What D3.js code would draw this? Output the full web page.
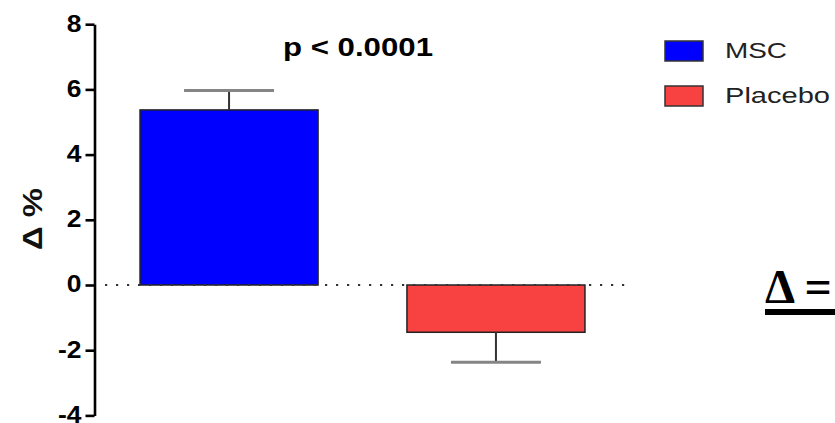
<!DOCTYPE html>
<html>
<head>
<meta charset="utf-8">
<script src="https://cdn.jsdelivr.net/npm/d3@7/dist/d3.min.js"></script>
<style>
  html, body { margin: 0; padding: 0; background: #fff; }
  svg { display: block; }
</style>
</head>
<body>
<svg id="chart" width="835" height="423"></svg>
<script>
// Change from baseline (Δ %) by group, mean ± SEM
const groups = ["MSC", "Placebo"];
const means = [5.37, -1.45];
const sems = [0.6, 0.92];
const colors = ["#0000ff", "#f84242"];
const yTicks = [-4, -2, 0, 2, 4, 6, 8];
const pLabel = "p < 0.0001";
const yLabel = "Δ %";
const noteLabel = "Δ =";

const svg = d3.select("#chart");

const x = d3.scaleBand()
  .domain(groups)
  .range([100, 625])
  .paddingInner(0.333)
  .paddingOuter(0.15);

const y = d3.scaleLinear()
  .domain([-4, 8])
  .range([415.4, 24.2]);

// Bars
svg.append("g").selectAll("rect")
  .data(groups)
  .join("rect")
  .attr("x", d => x(d))
  .attr("width", x.bandwidth())
  .attr("y", (d, i) => y(Math.max(0, means[i])))
  .attr("height", (d, i) => Math.abs(y(means[i]) - y(0)))
  .attr("fill", (d, i) => colors[i])
  .attr("stroke", "#222")
  .attr("stroke-width", 1.5);

// Error bars (one-sided, away from zero)
const eb = svg.append("g");
groups.forEach((g, i) => {
  const cx = x(g) + x.bandwidth() / 2;
  const end = means[i] + Math.sign(means[i]) * sems[i];
  eb.append("line")
    .attr("x1", cx).attr("x2", cx)
    .attr("y1", y(means[i])).attr("y2", y(end))
    .attr("stroke", "#333").attr("stroke-width", 2);
  eb.append("line")
    .attr("x1", cx - 45).attr("x2", cx + 45)
    .attr("y1", y(end)).attr("y2", y(end))
    .attr("stroke", "#858585").attr("stroke-width", 3);
});

// Dotted zero reference line
svg.append("line")
  .attr("x1", 105).attr("x2", 630)
  .attr("y1", y(0)).attr("y2", y(0))
  .attr("stroke", "#333")
  .attr("stroke-width", 2.2)
  .attr("stroke-dasharray", "2.2,8.8");

// Y axis
const axis = svg.append("g")
  .attr("transform", "translate(94.5,0)")
  .call(d3.axisLeft(y).tickValues(yTicks).tickFormat(d => String(d))
    .tickSize(9).tickSizeOuter(0).tickPadding(4));
axis.select(".domain").attr("stroke", "#000").attr("stroke-width", 2.6);
axis.selectAll(".tick line").attr("stroke", "#000").attr("stroke-width", 2.6);
axis.selectAll(".tick text")
  .attr("x", 0)
  .attr("transform", "translate(-13,0) scale(1.15,1)")
  .attr("fill", "#000")
  .style("font-family", "'Liberation Sans', Arial, sans-serif")
  .style("font-weight", "bold")
  .style("font-size", "23px")
  .attr("dy", "0.3em");

// Y axis title
svg.append("text")
  .attr("transform", "translate(42,219) rotate(-90)")
  .attr("text-anchor", "middle")
  .attr("textLength", 62)
  .attr("lengthAdjust", "spacingAndGlyphs")
  .style("font-family", "'Liberation Sans', Arial, sans-serif")
  .style("font-weight", "bold")
  .style("font-size", "27px")
  .attr("fill", "#111")
  .text(yLabel);

// Significance label
svg.append("text")
  .attr("x", 283).attr("y", 56)
  .attr("textLength", 150)
  .attr("lengthAdjust", "spacingAndGlyphs")
  .style("font-family", "'Liberation Sans', Arial, sans-serif")
  .style("font-weight", "bold")
  .style("font-size", "26px")
  .attr("fill", "#000")
  .text(pLabel);

// Legend
const legend = svg.append("g");
const legendY = [41, 86];
const legendW = [62, 105];
groups.forEach((g, i) => {
  legend.append("rect")
    .attr("x", 665).attr("y", legendY[i])
    .attr("width", 38).attr("height", 20)
    .attr("fill", colors[i])
    .attr("stroke", "#333").attr("stroke-width", 1.5);
  legend.append("text")
    .attr("x", 725).attr("y", legendY[i] + 17)
    .attr("textLength", legendW[i])
    .attr("lengthAdjust", "spacingAndGlyphs")
    .style("font-family", "'Liberation Sans', Arial, sans-serif")
    .style("font-size", "22px")
    .attr("fill", "#222")
    .text(g);
});

// Definition note (runs off the right edge)
svg.append("text")
  .attr("x", 765).attr("y", 303)
  .style("font-family", "'Liberation Serif', 'Times New Roman', serif")
  .style("font-weight", "bold")
  .style("font-size", "48px")
  .attr("fill", "#000")
  .text(noteLabel);
svg.append("rect")
  .attr("x", 765).attr("y", 309)
  .attr("width", 80).attr("height", 6)
  .attr("fill", "#000");
</script>
</body>
</html>
